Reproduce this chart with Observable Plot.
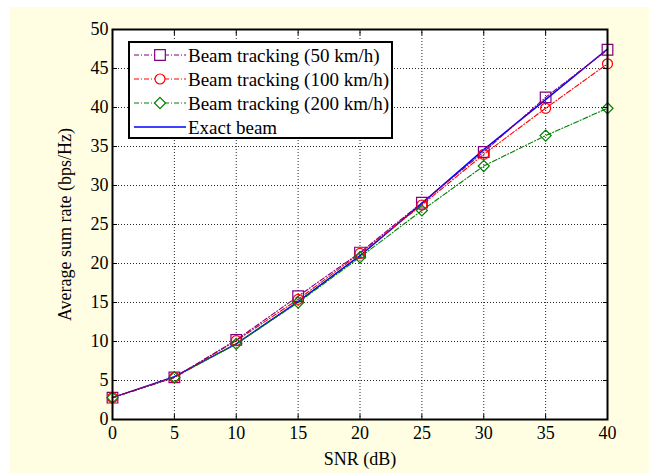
<!DOCTYPE html>
<html><head><meta charset="utf-8">
<script src="https://cdn.jsdelivr.net/npm/d3@7"></script>
<script src="https://cdn.jsdelivr.net/npm/@observablehq/plot@0.6"></script>
<style>
html,body{margin:0;padding:0;background:#fff;width:649px;height:473px;overflow:hidden;}
#wrap{position:absolute;left:10px;top:7px;width:639px;height:466px;background:#FFFEE3;}
#legend{position:absolute;left:118px;top:34px;}
</style></head><body><div id="wrap"></div>
<script>
const snr = [0, 5, 10, 15, 20, 25, 30, 35, 40];
const rate50 = [2.8, 5.4, 10.2, 15.8, 21.4, 27.8, 34.3, 41.3, 47.4];
const rate100 = [2.8, 5.4, 10.1, 15.4, 21.3, 27.5, 34.0, 39.9, 45.6];
const rate200 = [2.8, 5.4, 9.7, 15.0, 20.8, 26.8, 32.5, 36.4, 39.9];
const rateExact = [2.8, 5.5, 9.7, 15.1, 21.0, 27.7, 34.6, 41.0, 47.5];
const seriesNames = ["Beam tracking (50 km/h)", "Beam tracking (100 km/h)", "Beam tracking (200 km/h)", "Exact beam"];
const xTicks = [0, 5, 10, 15, 20, 25, 30, 35, 40];
const yTicks = [0, 5, 10, 15, 20, 25, 30, 35, 40, 45, 50];
const xLabel = "SNR (dB)";
const yLabel = "Average sum rate (bps/Hz)";

const styles = [
  {name: seriesNames[0], values: rate50, color: "#800080", dash: "5,2,1,2", symbol: "square", r: 6},
  {name: seriesNames[1], values: rate100, color: "#FF0000", dash: "5,2,1,2", symbol: "circle", r: 5},
  {name: seriesNames[2], values: rate200, color: "#008000", dash: "5,2,1,2", symbol: "diamond2", r: 5},
  {name: seriesNames[3], values: rateExact, color: "#0000FF", dash: null, symbol: null, r: 0}
];
const rows = s => snr.map((x, i) => ({x, y: s.values[i]}));

const font = "'Liberation Serif', 'Times New Roman', serif";
const marks = [
  Plot.frame({fill: "white"}),
  Plot.gridX(xTicks, {stroke: "black", strokeOpacity: 0.85, strokeDasharray: "1,2"}),
  Plot.gridY(yTicks, {stroke: "black", strokeOpacity: 0.85, strokeDasharray: "1,2"})
];
for (const s of styles.slice().reverse()) {
  marks.push(Plot.line(rows(s), {x: "x", y: "y", stroke: s.color, strokeWidth: s.dash ? 1.1 : 1.5, strokeDasharray: s.dash}));
}
for (const s of styles) {
  if (s.symbol) marks.push(Plot.dot(rows(s), {x: "x", y: "y", stroke: s.color, fill: "none", symbol: s.symbol, r: s.r, strokeWidth: 1.2}));
}
marks.push(
  Plot.frame({stroke: "black", strokeWidth: 2}),
  Plot.axisX(xTicks, {anchor: "bottom", tickSize: 5, dy: -5, tickFormat: () => "", label: null, strokeWidth: 1}),
  Plot.axisX(xTicks, {anchor: "top", tickSize: 5, dy: 5, tickFormat: () => "", label: null, strokeWidth: 1}),
  Plot.axisY(yTicks, {anchor: "left", tickSize: 5, dx: 5, tickFormat: () => "", label: null, strokeWidth: 1}),
  Plot.axisY(yTicks, {anchor: "right", tickSize: 5, dx: -5, tickFormat: () => "", label: null, strokeWidth: 1}),
  Plot.axisX(xTicks, {anchor: "bottom", tickSize: 0, tickPadding: 7, label: xLabel, labelAnchor: "center", labelArrow: "none", labelOffset: 45, fill: "black"}),
  Plot.axisY(yTicks, {anchor: "left", tickSize: 0, tickPadding: 4, label: yLabel, labelAnchor: "center", labelArrow: "none", labelOffset: 54, fill: "black"})
);

const chart = Plot.plot({
  width: 639, height: 466,
  marginLeft: 102, marginRight: 42, marginTop: 22, marginBottom: 54,
  x: {domain: [0, 40]},
  y: {domain: [0, 50]},
  style: {fontFamily: font, fontSize: "18px", background: "transparent", color: "black", overflow: "visible"},
  marks
});
const wrap = document.getElementById("wrap");
wrap.appendChild(chart);

// Legend
const lg = d3.select(wrap).append("svg").attr("id", "legend").attr("width", 266).attr("height", 99)
  .style("font-family", font).style("font-size", "19px");
lg.append("rect").attr("x", 1).attr("y", 1).attr("width", 263).attr("height", 96)
  .attr("fill", "white").attr("stroke", "black").attr("stroke-width", 2);
styles.forEach((s, i) => {
  const cy = 14 + i * 24;
  const g = lg.append("g").attr("transform", `translate(0,${cy})`);
  g.append("line").attr("x1", 6).attr("x2", 58).attr("y1", 0).attr("y2", 0)
    .attr("stroke", s.color).attr("stroke-width", s.dash ? 1.1 : 1.5).attr("stroke-dasharray", s.dash);
  if (s.symbol) {
    const sym = {square: d3.symbolSquare, circle: d3.symbolCircle, diamond2: d3.symbolDiamond2}[s.symbol];
    g.append("path").attr("transform", "translate(32,0)")
      .attr("d", d3.symbol(sym, Math.PI * s.r * s.r)())
      .attr("fill", "white").attr("stroke", s.color).attr("stroke-width", 1.2);
  }
  g.append("text").attr("x", 60).attr("y", 0).attr("dy", "0.35em").text(s.name);
});
</script></body></html>
